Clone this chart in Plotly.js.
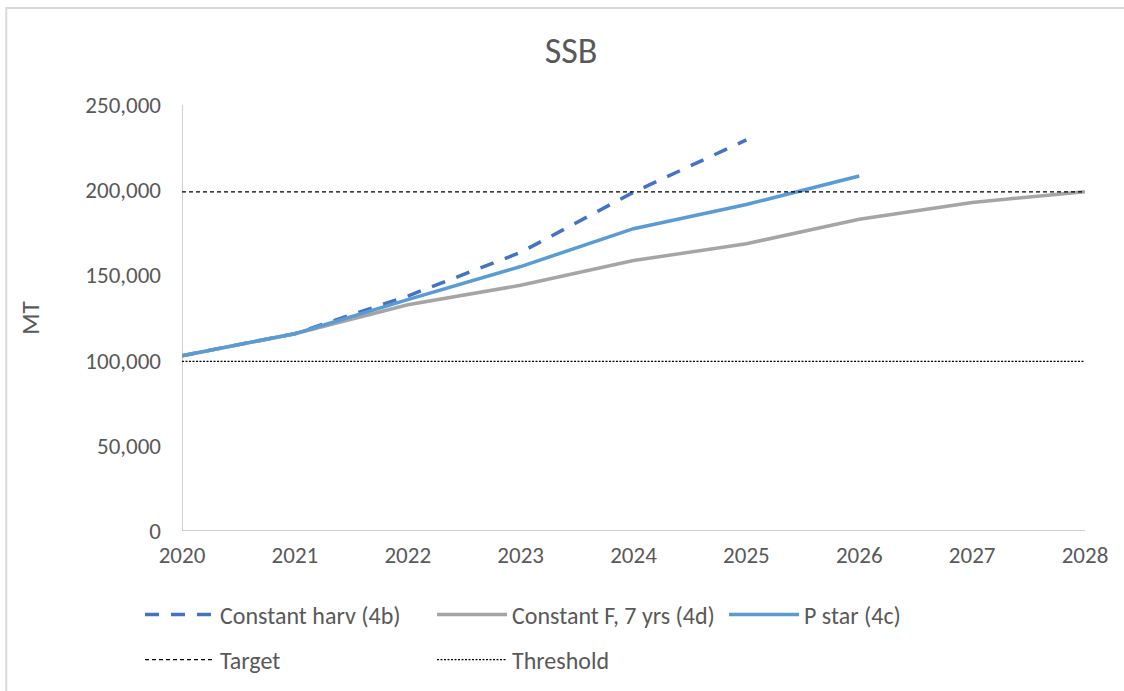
<!DOCTYPE html>
<html>
<head>
<meta charset="utf-8">
<script src="https://cdn.plot.ly/plotly-3.0.1.min.js"></script>
<style>
  html, body { margin: 0; padding: 0; background: #fff; }
  #chart { width: 1124px; height: 691px; }
</style>
</head>
<body>
<div id="chart"></div>
<script>
const years = [2020, 2021, 2022, 2023, 2024, 2025, 2026, 2027, 2028];
const constantHarv = [102900, 115800, 137900, 163500, 198800, 229500];
const constantF = [102900, 115800, 132800, 144200, 158700, 168600, 182900, 192800, 199100];
const pStar = [102900, 115800, 135800, 155200, 177400, 191600, 208300];
const targetValue = 199000;
const thresholdValue = 99600;

const FONT = "Carlito, 'Liberation Sans Narrow', 'Liberation Sans', sans-serif";
const GREY_TEXT = '#595959';

const traces = [
  {
    x: years.slice(0, constantHarv.length), y: constantHarv, name: 'Constant harv (4b)',
    mode: 'lines', line: { color: '#4472C4', width: 3.5, dash: '14px,12px' },
    legend: 'legend'
  },
  {
    x: years.slice(0, constantF.length), y: constantF, name: 'Constant F, 7 yrs (4d)',
    mode: 'lines', line: { color: '#A5A5A5', width: 3.5 },
    legend: 'legend'
  },
  {
    x: years.slice(0, pStar.length), y: pStar, name: 'P star (4c)',
    mode: 'lines', line: { color: '#5B9BD5', width: 3.5 },
    legend: 'legend'
  },
  {
    x: [years[0], years[years.length - 1]], y: [targetValue, targetValue], name: 'Target',
    mode: 'lines', line: { color: '#000000', width: 1.2, dash: '4px,3px' },
    legend: 'legend2'
  },
  {
    x: [years[0], years[years.length - 1]], y: [thresholdValue, thresholdValue], name: 'Threshold',
    mode: 'lines', line: { color: '#000000', width: 1.2, dash: '2px,1.5px' },
    legend: 'legend2'
  }
];

const legendCommon = {
  orientation: 'h', xref: 'container', yref: 'container',
  xanchor: 'left', yanchor: 'middle',
  font: { family: FONT, size: 24, color: GREY_TEXT },
  entrywidth: 207, entrywidthmode: 'pixels', itemwidth: 70,
  bgcolor: 'rgba(0,0,0,0)', traceorder: 'normal'
};

const layout = {
  width: 1124, height: 691,
  paper_bgcolor: '#ffffff', plot_bgcolor: '#ffffff',
  margin: { l: 182, r: 39, t: 105, b: 160 },
  font: { family: FONT, color: GREY_TEXT },
  title: {
    text: 'SSB', font: { family: FONT, size: 36, color: GREY_TEXT },
    xref: 'container', x: 0.508, xanchor: 'center',
    yref: 'container', y: 1 - 50 / 691, yanchor: 'middle'
  },
  xaxis: {
    range: [2020, 2028], tickvals: years, ticktext: years.map(String),
    showgrid: false, zeroline: false, showline: false, ticks: '',
    tickfont: { family: FONT, size: 23, color: GREY_TEXT }, ticklabelstandoff: 8
  },
  yaxis: {
    range: [0, 250000], tickvals: [0, 50000, 100000, 150000, 200000, 250000],
    ticktext: ['0', '50,000', '100,000', '150,000', '200,000', '250,000'],
    showgrid: false, zeroline: false, showline: false, ticks: '',
    tickfont: { family: FONT, size: 23, color: GREY_TEXT }, ticklabelstandoff: 20,
    title: { text: 'MT', font: { family: FONT, size: 25, color: GREY_TEXT }, standoff: 38 }
  },
  shapes: [
    { type: 'line', xref: 'x', yref: 'y', x0: 2020, x1: 2020, y0: 0, y1: 250000,
      line: { color: '#BFBFBF', width: 1.5 }, layer: 'below' },
    { type: 'line', xref: 'x', yref: 'y', x0: 2020, x1: 2028, y0: 0, y1: 0,
      line: { color: '#BFBFBF', width: 1.5 }, layer: 'below' },
    { type: 'rect', xref: 'paper', yref: 'paper', x0: -0.1946, x1: 1.1, y0: -0.45, y1: 1.2276,
      line: { color: '#D9D9D9', width: 2 }, fillcolor: 'rgba(0,0,0,0)', layer: 'below' }
  ],
  showlegend: true,
  legend: Object.assign({}, legendCommon, { x: 140 / 1124, y: 1 - 615 / 691 }),
  legend2: Object.assign({}, legendCommon, { x: 140 / 1124, y: 1 - 660 / 691 })
};

Plotly.newPlot('chart', traces, layout, { displayModeBar: false, staticPlot: true });
</script>
</body>
</html>
